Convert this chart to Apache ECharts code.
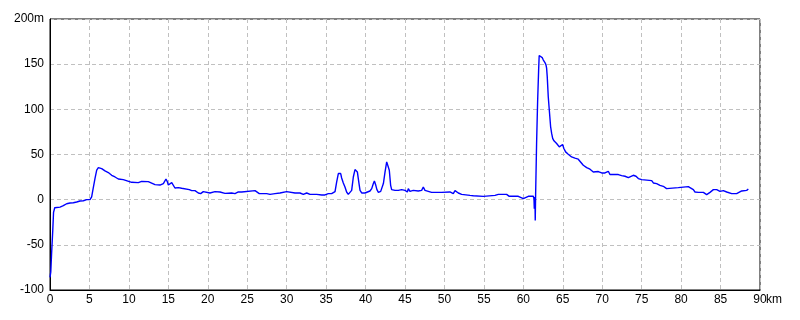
<!DOCTYPE html>
<html>
<head>
<meta charset="utf-8">
<script src="https://cdn.jsdelivr.net/npm/echarts@6/dist/echarts.min.js"></script>
<style>html,body{margin:0;padding:0;background:#fff}#c{width:800px;height:320px}</style>
</head>
<body>
<div id="c"></div>
<script>
const distanceKm = [0,0.1,0.2,0.35,0.45,0.6,1.27,1.69,2.11,2.54,2.96,3.17,3.38,3.8,4.23,4.44,4.65,5.07,5.28,5.49,5.7,5.92,6.13,6.34,6.55,6.97,7.39,7.82,8.24,8.66,9.29,9.5,10.35,11.19,11.62,12.46,12.68,13.31,13.94,14.37,14.7,14.87,15.0,15.43,15.63,15.84,16.27,16.69,16.9,17.66,17.96,18.38,18.8,19.1,19.43,19.64,20.28,20.49,20.91,21.13,21.55,21.76,22.18,22.39,23.03,23.45,23.87,24.3,24.5,25.99,26.2,26.53,27.47,27.89,28.52,29.15,29.37,30.0,30.21,31.06,31.27,31.69,32.11,32.54,32.75,32.96,33.8,34.01,34.44,34.65,34.86,35.28,35.7,36.13,36.34,36.55,36.85,36.97,37.18,37.39,37.6,37.81,38.03,38.24,38.45,38.66,38.79,38.96,39.17,39.3,39.51,39.93,40.14,40.56,40.78,40.99,41.12,41.3,41.44,41.63,41.92,42.13,42.26,42.47,42.68,42.88,43.01,43.18,43.31,43.73,44.15,44.58,45.0,45.3,45.42,45.63,46.05,46.26,46.68,47.11,47.32,47.53,47.74,48.37,49.21,49.43,49.64,49.85,50.7,51.12,51.34,51.55,51.76,52.18,52.39,53.24,53.45,53.66,53.87,54.93,55.14,56.41,56.62,56.83,57.46,57.67,57.88,58.22,59.36,59.57,60.0,60.21,60.63,61.26,61.35,61.39,61.47,61.51,61.56,61.68,61.81,61.94,62.01,62.18,62.39,62.52,62.74,62.87,62.95,63.03,63.16,63.29,63.46,63.59,63.72,63.88,64.22,64.56,64.73,64.98,65.14,65.36,65.69,66.12,66.54,66.96,67.18,67.6,68.03,68.45,68.87,69.08,69.5,69.93,70.35,70.77,70.98,72.04,72.25,72.46,72.89,73.1,73.31,73.52,73.94,74.16,74.28,74.58,74.79,75.0,76.27,76.48,76.9,77.32,77.74,77.95,78.16,78.37,79.64,79.86,80.91,81.12,81.55,81.76,81.97,82.18,82.39,82.82,83.03,83.24,83.45,83.66,83.88,84.09,84.51,84.93,85.14,85.35,85.78,85.99,86.41,87.04,87.25,87.68,88.31,88.52];
const elevationM = [-86,-80,-60,-34,-14,-9,-8.2,-6.7,-4.5,-3.7,-3.4,-4.5,-2.6,-1.5,-1.2,-1.9,0,0,3,13.3,23.3,32.6,35.5,35.5,34.4,31.8,30,27,25.1,22.9,22.2,20.7,19.2,18.9,20.3,20,17.8,16.7,16.2,17.8,22.9,20,16.2,18.9,17.8,12.9,13.3,12.6,11.1,11.1,10,10,7.4,6.7,8.9,7.4,7.4,8.9,8.9,7.4,8.5,7,7,7.4,7.4,6.7,8.5,8.5,10,10,11.1,6.7,6.7,5.9,6.7,7.4,8.9,8.9,7.4,7.4,8.1,7.4,5.9,7.4,7.8,5.9,5.9,5.2,5.2,5.9,5.2,6.7,6.7,9,19.6,28.9,28.9,24,18.5,14,8.5,5.9,6.7,10.3,25.1,33.3,34.4,30.7,17.8,10.3,7.4,7.4,8.1,9.6,12.2,17.8,20.7,15.9,11.1,8.1,9.2,10.3,17.8,30.7,41.8,41.8,32.6,15.9,11.1,10.3,10.3,11.1,10.3,8.5,12.2,9.2,10.3,12.2,9.6,10.3,14,10.3,8.9,8.1,8.1,10.3,8.1,9.6,8.5,6.7,10,9.2,7.4,5.9,4.8,4.8,3.7,4.4,3.7,3.7,4.8,4.8,3.7,5.9,5.9,7.4,5.9,3.7,3.7,2.2,1.1,2.2,3.7,3.7,1.1,-10,2.9,-23,6.7,62.2,108.4,143.7,159.6,159.2,157.3,154.8,151.8,149.2,145.6,136.2,114,99.2,80.7,73.3,67.8,65.1,62.2,58.4,57.8,61.1,56.7,52.9,50.3,47.3,45.9,44.8,42.9,38.1,35.5,33.7,30.7,31.4,31.1,29.6,29.6,31.4,27.8,27.8,25.9,26.6,25.9,24.4,24.4,26.6,27,28.9,25.9,23.3,21.4,22.2,21.1,18.5,17.8,15.9,14.8,13.3,12.2,13.3,13.3,14.4,14.4,12.2,11.1,8.5,10,8.1,9.6,8.1,6.7,5.6,6.7,8.1,9.6,11.1,11.1,9.2,10.3,10,8.5,7.8,6.7,6.7,8.1,9.6,10.3,11.8];
const xUnit = 'km';
const yUnit = 'm';

const font = "'Liberation Sans', Arial, sans-serif";
const chart = echarts.init(document.getElementById('c'), null, {renderer: 'canvas'});
chart.setOption({
  animation: false,
  backgroundColor: '#fff',
  grid: {left: 50, right: 40, top: 19, bottom: 30, show: true, borderColor: '#000', borderWidth: 1, backgroundColor: 'transparent'},
  xAxis: {
    type: 'value', min: 0, max: 90, interval: 5,
    name: xUnit, nameLocation: 'end', nameGap: 6, nameMoveOverlap: false,
    nameTextStyle: {color: '#000', fontSize: 12, fontFamily: font, verticalAlign: 'top', padding: [4, 0, 0, 0]},
    axisLine: {show: true, onZero: false, lineStyle: {color: '#000', width: 1}},
    axisTick: {show: false},
    axisLabel: {color: '#000', fontSize: 12, fontFamily: font, margin: 4},
    splitLine: {show: true, lineStyle: {color: '#c0c0c0', type: [4, 3], width: 1}}
  },
  yAxis: {
    type: 'value', min: -100, max: 200, interval: 50,
    axisLine: {show: true, onZero: false, lineStyle: {color: '#000', width: 1}},
    axisTick: {show: false},
    axisLabel: {color: '#000', fontSize: 12, fontFamily: font, margin: 6,
      formatter: v => v === 200 ? v + yUnit : String(v)},
    splitLine: {show: true, lineStyle: {color: '#c0c0c0', type: [4, 3], width: 1}}
  },
  series: [{
    type: 'line',
    data: distanceKm.map((d, i) => [d, elevationM[i]]),
    showSymbol: false,
    lineStyle: {color: '#0000ff', width: 1.4},
    itemStyle: {color: '#0000ff'}
  }]
});
</script>
</body>
</html>
